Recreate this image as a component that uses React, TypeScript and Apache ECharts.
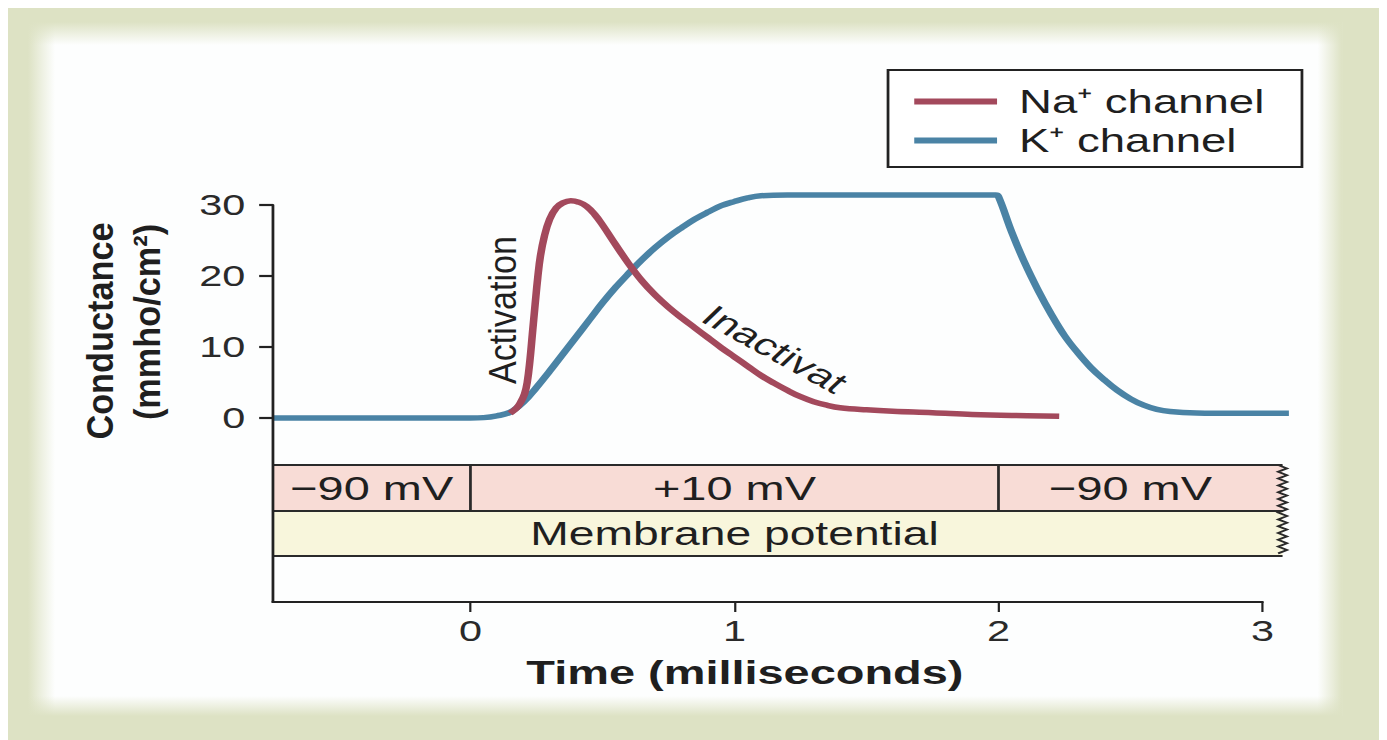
import React, { useEffect, useRef } from "react";
import * as echarts from "echarts";

// ---- data ----
const timeTicks = [0, 1, 2, 3];
const conductanceTicks = [0, 10, 20, 30];
const timeAxisEnd = 3;

const naTime = [0.15, 0.175, 0.19, 0.205, 0.215, 0.225, 0.235, 0.245, 0.255, 0.265, 0.28, 0.3, 0.325, 0.35, 0.38, 0.41, 0.44, 0.47, 0.5, 0.55, 0.6, 0.65, 0.7, 0.75, 0.8, 0.85, 0.9, 0.95, 1.0, 1.05, 1.1, 1.15, 1.2, 1.25, 1.3, 1.35, 1.4, 1.5, 1.6, 1.75, 1.9, 2.05, 2.23];
const naValue = [0.66, 1.4, 2.2, 3.4, 5.0, 8.0, 12.0, 16.0, 19.8, 22.8, 25.6, 28.0, 29.6, 30.3, 30.6, 30.4, 29.8, 28.7, 27.2, 24.4, 21.7, 19.3, 17.3, 15.6, 14.1, 12.7, 11.3, 9.9, 8.6, 7.3, 6.0, 4.9, 3.9, 3.0, 2.3, 1.8, 1.45, 1.15, 0.95, 0.75, 0.5, 0.35, 0.25];

const kTime = [-0.748, 0, 0.05, 0.1, 0.15, 0.2, 0.25, 0.3, 0.35, 0.4, 0.45, 0.5, 0.55, 0.6, 0.65, 0.7, 0.75, 0.8, 0.85, 0.9, 0.95, 1.0, 1.05, 1.1, 1.2, 1.4, 1.9, 1.99, 2.0, 2.05, 2.1, 2.15, 2.2, 2.25, 2.3, 2.35, 2.4, 2.45, 2.5, 2.55, 2.6, 2.65, 2.75, 2.9, 3.1];
const kValue = [0, 0, 0.05, 0.3, 0.8, 2.2, 4.3, 6.6, 9.0, 11.4, 13.8, 16.2, 18.4, 20.4, 22.3, 24.0, 25.5, 26.8, 28.0, 29.0, 29.9, 30.5, 31.0, 31.3, 31.4, 31.4, 31.4, 31.4, 31.2, 26.2, 21.8, 18.0, 14.6, 11.6, 9.2, 7.1, 5.4, 3.9, 2.7, 1.8, 1.2, 0.9, 0.7, 0.65, 0.65];

const segStart = [-0.748, 0, 2];
const segEnd = [0, 2, 3.076];
const segLabel = ["\u221290 mV", "+10 mV", "\u221290 mV"];
const membraneLabel = "Membrane potential";
const membraneLabelAt = 1.0;
const bandLevels = [-6.62, -13.1, -19.44];
const yMin = -25.92;
const yMax = 30;

const seriesNames = ["Na\u207A channel", "K\u207A channel"];

// ---- layout / style ----
const SCALE_X = 1.38;
const WIDTH = 994;
const HEIGHT = 732;
const FONT = "'Liberation Sans', Arial, Helvetica, sans-serif";
const NA_COLOR = "#a3495c";
const K_COLOR = "#4a83a5";
const INK = "#1f1f1f";
const AXIS = "#222";
const PINK = "#f8dcd6";
const CREAM = "#f8f6dc";
const OLIVE = "#dde2c4";

const fade = (x: number, y: number, x2: number, y2: number) => ({
  type: "linear",
  x,
  y,
  x2,
  y2,
  colorStops: [
    { offset: 0, color: "rgba(221,226,196,1)" },
    { offset: 1, color: "rgba(221,226,196,0)" },
  ],
});

export default function App() {
  const ref = useRef<HTMLDivElement>(null);

  useEffect(() => {
    const chart = echarts.init(ref.current!, null, { renderer: "svg" });

    const bandRender = (params: any, api: any) => {
      const children: any[] = [];
      const top = bandLevels[0];
      const mid = bandLevels[1];
      const bot = bandLevels[2];
      const xs = segStart[0];
      const xe = segEnd[segEnd.length - 1];
      for (let i = 0; i < segStart.length; i++) {
        const p0 = api.coord([segStart[i], top]);
        const p1 = api.coord([segEnd[i], mid]);
        children.push({
          type: "rect",
          shape: { x: p0[0], y: p0[1], width: p1[0] - p0[0], height: p1[1] - p0[1] },
          style: { fill: PINK },
        });
      }
      const c0 = api.coord([xs, mid]);
      const c1 = api.coord([xe, bot]);
      children.push({
        type: "rect",
        shape: { x: c0[0], y: c0[1], width: c1[0] - c0[0], height: c1[1] - c0[1] },
        style: { fill: CREAM },
      });
      for (let i = 0; i < segStart.length; i++) {
        const lx = (segStart[i] + Math.min(segEnd[i], timeAxisEnd)) / 2;
        const pc = api.coord([lx, (top + mid) / 2]);
        children.push({
          type: "text",
          x: pc[0],
          y: pc[1],
          style: {
            text: segLabel[i],
            fill: INK,
            fontSize: 34,
            fontFamily: FONT,
            align: "center",
            verticalAlign: "middle",
          },
        });
      }
      const mc = api.coord([membraneLabelAt, (mid + bot) / 2]);
      children.push({
        type: "text",
        x: mc[0],
        y: mc[1],
        style: {
          text: membraneLabel,
          fill: INK,
          fontSize: 33.5,
          fontFamily: FONT,
          align: "center",
          verticalAlign: "middle",
        },
      });
      const lineStyle = { stroke: "#2a2a2a", lineWidth: 2, fill: null };
      [top, mid, bot].forEach((lv) => {
        const a = api.coord([xs, lv]);
        const b = api.coord([xe, lv]);
        children.push({ type: "line", shape: { x1: a[0], y1: a[1], x2: b[0], y2: b[1] }, style: lineStyle });
      });
      for (let i = 0; i < segEnd.length - 1; i++) {
        const a = api.coord([segEnd[i], top]);
        const b = api.coord([segEnd[i], mid]);
        children.push({ type: "line", shape: { x1: a[0], y1: a[1], x2: b[0], y2: b[1] }, style: lineStyle });
      }
      // zigzag break at the right edge
      const zt = api.coord([xe, top]);
      const zb = api.coord([xe, bot]);
      const pts: number[][] = [];
      const step = 3.4;
      let k = 0;
      for (let y = zt[1]; y <= zb[1] + 0.01; y += step) {
        pts.push([zt[0] + (k % 2 === 0 ? -3.2 : 3.2), y]);
        k++;
      }
      children.push({ type: "polyline", shape: { points: pts }, style: { stroke: "#2a2a2a", lineWidth: 1.8, fill: null } });
      // time axis line (ends at the last tick)
      const a0 = api.coord([xs, yMin]);
      const a1 = api.coord([timeAxisEnd, yMin]);
      children.push({
        type: "line",
        shape: { x1: a0[0] - 1, y1: a0[1], x2: a1[0] + 0.8, y2: a1[1] },
        style: { stroke: AXIS, lineWidth: 2 },
      });
      return { type: "group", children };
    };

    const option: any = {
      animation: false,
      backgroundColor: OLIVE,
      grid: { left: 192, right: 63.9, top: 197, bottom: 138, containLabel: false, outerBoundsMode: "none" },
      legend: {
        orient: "vertical",
        left: 637.7,
        top: 62,
        data: seriesNames,
        icon: "rect",
        itemWidth: 60,
        itemHeight: 6,
        itemGap: 6,
        padding: [15, 27, 10, 19],
        borderColor: "#222",
        borderWidth: 2,
        backgroundColor: "#fff",
        selectedMode: false,
        textStyle: { fontSize: 33, lineHeight: 32, color: INK, fontFamily: FONT, padding: [0, 0, 0, 11] },
      },
      xAxis: {
        type: "value",
        min: segStart[0],
        max: 3.11,
        axisLine: { show: false, onZero: false },
        axisTick: { show: true, length: 10, customValues: timeTicks, lineStyle: { color: AXIS, width: 1.6 } },
        axisLabel: { customValues: timeTicks, margin: 14, fontSize: 30, color: "#2a2a2a", fontFamily: FONT },
        splitLine: { show: false },
        z: 5,
      },
      yAxis: {
        type: "value",
        min: yMin,
        max: yMax,
        axisLine: { show: true, onZero: false, lineStyle: { color: AXIS, width: 2 } },
        axisTick: { show: true, length: 10, customValues: conductanceTicks, lineStyle: { color: AXIS, width: 2.2 } },
        axisLabel: { customValues: conductanceTicks, margin: 20, fontSize: 30, color: "#2a2a2a", fontFamily: FONT },
        splitLine: { show: false },
        z: 5,
      },
      graphic: [
        { type: "rect", z: -2, shape: { x: 14.5, y: 14, width: 952.2, height: 694 }, style: { fill: "#fdfefe" } },
        { type: "rect", z: -1, shape: { x: 14.5, y: 14, width: 19.6, height: 694 }, style: { fill: fade(0, 0, 1, 0) } },
        { type: "rect", z: -1, shape: { x: 14.5, y: 14, width: 952.2, height: 23 }, style: { fill: fade(0, 0, 0, 1) } },
        { type: "rect", z: -1, shape: { x: 949, y: 14, width: 17.7, height: 694 }, style: { fill: fade(1, 0, 0, 0) } },
        { type: "rect", z: -1, shape: { x: 14.5, y: 688, width: 952.2, height: 20 }, style: { fill: fade(0, 1, 0, 0) } },
        {
          type: "text",
          x: 66.7,
          y: 323,
          rotation: Math.PI / 2,
          scaleX: 1.27,
          style: { text: "Conductance", fontSize: 27, fontWeight: "bold", fontFamily: FONT, fill: INK, align: "center", verticalAlign: "middle" },
        },
        {
          type: "text",
          x: 101.4,
          y: 314,
          rotation: Math.PI / 2,
          scaleX: 1.27,
          style: { text: "(mmho/cm\u00B2)", fontSize: 27, fontWeight: "bold", fontFamily: FONT, fill: INK, align: "center", verticalAlign: "middle" },
        },
        {
          type: "text",
          x: 358.5,
          y: 302,
          rotation: Math.PI / 2,
          scaleX: 1.2,
          style: { text: "Activation", fontSize: 28.5, fontFamily: FONT, fill: INK, align: "center", verticalAlign: "middle" },
        },
        {
          type: "text",
          x: 556,
          y: 341,
          rotation: -0.646,
          scaleX: 1.1,
          style: { text: "Inactivat", fontSize: 30, fontFamily: FONT, fill: INK, align: "center", verticalAlign: "middle" },
        },
        {
          type: "text",
          x: 534,
          y: 664,
          style: { text: "Time (milliseconds)", fontSize: 34, fontWeight: "bold", fontFamily: FONT, fill: INK, align: "center", verticalAlign: "middle" },
        },
      ],
      series: [
        {
          type: "custom",
          name: "Membrane potential",
          data: [[0]],
          clip: false,
          z: 2,
          renderItem: bandRender,
          silent: true,
        },
        {
          type: "line",
          name: seriesNames[1],
          data: kTime.map((t, i) => [t, kValue[i]]),
          showSymbol: false,
          symbol: "none",
          smooth: 0.4,
          clip: false,
          color: K_COLOR,
          lineStyle: { color: K_COLOR, width: 5.5 },
          itemStyle: { color: K_COLOR },
          z: 3,
        },
        {
          type: "line",
          name: seriesNames[0],
          data: naTime.map((t, i) => [t, naValue[i]]),
          showSymbol: false,
          symbol: "none",
          smooth: 0.4,
          clip: false,
          color: NA_COLOR,
          lineStyle: { color: NA_COLOR, width: 5.5 },
          itemStyle: { color: NA_COLOR },
          z: 4,
        },
      ],
    };

    chart.setOption(option);
    return () => chart.dispose();
  }, []);

  return (
    <>
      <style>{`html,body{overflow:hidden;}`}</style>
      <div style={{ width: WIDTH * SCALE_X, height: HEIGHT }}>
        <div
          ref={ref}
          style={{ width: WIDTH, height: HEIGHT, transform: `scaleX(${SCALE_X})`, transformOrigin: "0 0" }}
        />
      </div>
    </>
  );
}
